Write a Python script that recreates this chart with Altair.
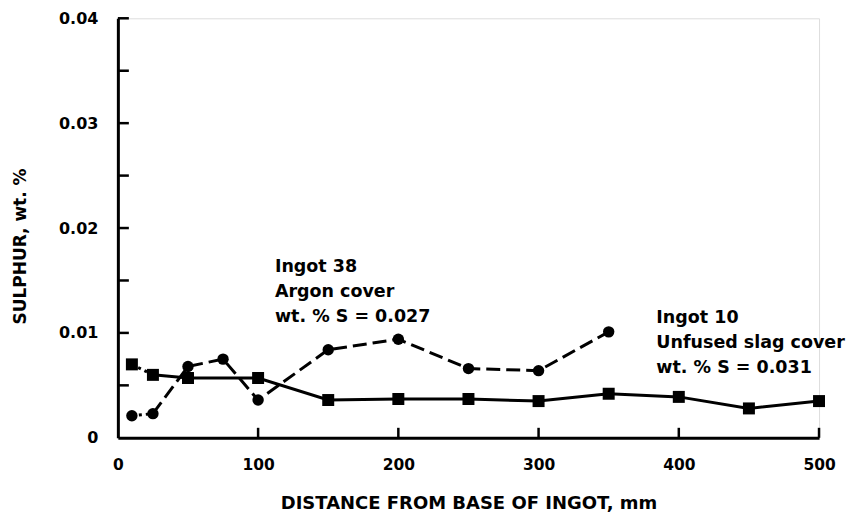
import altair as alt
import pandas as pd

# Ingot 38 (argon cover) - circles, dashed line
dist_38 = [10, 25, 50, 75, 100, 150, 200, 250, 300, 350]
sulphur_38 = [0.0021, 0.0023, 0.0068, 0.0075, 0.0036, 0.0084, 0.0094, 0.0066, 0.0064, 0.0101]

# Ingot 10 (unfused slag cover) - squares, solid line
dist_10 = [10, 25, 50, 100, 150, 200, 250, 300, 350, 400, 450, 500]
sulphur_10 = [0.0070, 0.0060, 0.0057, 0.0057, 0.0036, 0.0037, 0.0037, 0.0035, 0.0042, 0.0039, 0.0028, 0.0035]

x_label_values = [0, 100, 200, 300, 400, 500]
y_label_values = [0, 0.01, 0.02, 0.03, 0.04]
x_tick_values = [100, 200, 300, 400, 500]
y_tick_values = [0.005, 0.01, 0.015, 0.02, 0.025, 0.03, 0.035, 0.04]

ann_text = ["Ingot 38\nArgon cover\nwt. % S = 0.027",
            "Ingot 10\nUnfused slag cover\nwt. % S = 0.031"]
ann_x = [112, 384]
ann_y = [0.0158, 0.01095]

FONT = "DejaVu Sans"

df38 = pd.DataFrame({"dist": dist_38, "S": sulphur_38})
df10 = pd.DataFrame({"dist": dist_10, "S": sulphur_10})
dfxt = pd.DataFrame({"dist": x_tick_values})
dfyt = pd.DataFrame({"S": y_tick_values})
dfann = pd.DataFrame({"dist": ann_x, "S": ann_y, "txt": ann_text})

x_scale = alt.Scale(domain=[0, 500], nice=False, zero=True)
y_scale = alt.Scale(domain=[0, 0.04], nice=False, zero=True)

x_axis = alt.Axis(
    title="DISTANCE FROM BASE OF INGOT, mm",
    values=x_label_values, ticks=False, tickSize=0, grid=False,
    domainColor="black", domainWidth=3,
    labelFont=FONT, labelFontSize=15.5, labelFontWeight="bold", labelColor="black",
    labelPadding=20, labelFlush=False,
    titleFont=FONT, titleFontSize=18, titleFontWeight="bold", titleColor="black",
    titleY=66, titleBaseline="middle",
)
y_axis = alt.Axis(
    title="SULPHUR, wt. %",
    values=y_label_values, ticks=False, tickSize=0, grid=False,
    domainColor="black", domainWidth=3,
    labelFont=FONT, labelFontSize=16, labelFontWeight="bold", labelColor="black",
    labelPadding=20, labelFlush=False,
    labelExpr="datum.value == 0 ? '0' : format(datum.value, '.2f')",
    titleFont=FONT, titleFontSize=17, titleFontWeight="bold", titleColor="black",
    titleX=-97, titleY=228, titleBaseline="middle", titleAngle=-90,
)

X = alt.X("dist:Q", scale=x_scale, axis=x_axis)
Y = alt.Y("S:Q", scale=y_scale, axis=y_axis)

# first segment of each series drawn dotted, as in the original
line10a = alt.Chart(df10.iloc[:2]).mark_line(color="black", strokeWidth=3, strokeDash=[3, 4]).encode(x=X, y=Y)
line10b = alt.Chart(df10.iloc[1:]).mark_line(color="black", strokeWidth=3).encode(x=X, y=Y)
pts10 = alt.Chart(df10).mark_point(shape="square", filled=True, color="black", size=144, opacity=1).encode(x=X, y=Y)

line38a = alt.Chart(df38.iloc[:2]).mark_line(color="black", strokeWidth=3, strokeDash=[3, 4]).encode(x=X, y=Y)
line38b = alt.Chart(df38.iloc[1:]).mark_line(color="black", strokeWidth=3, strokeDash=[14, 6]).encode(x=X, y=Y)
pts38 = alt.Chart(df38).mark_point(shape="circle", filled=True, color="black", size=130, opacity=1).encode(x=X, y=Y)

xticks = alt.Chart(dfxt).mark_rule(color="black", strokeWidth=2.5).encode(
    x=X, y=alt.value(420), y2=alt.value(410))
yticks = alt.Chart(dfyt).mark_rule(color="black", strokeWidth=2.5).encode(
    y=Y, x=alt.value(0), x2=alt.value(11))

ann = alt.Chart(dfann).mark_text(
    align="left", baseline="alphabetic", font=FONT, fontSize=17.5, fontWeight="bold",
    color="black", lineBreak="\n", lineHeight=25,
).encode(x=X, y=Y, text="txt:N")

chart = alt.layer(line38a, line38b, line10a, line10b, pts38, pts10, xticks, yticks, ann).properties(
    width=702, height=420,
    autosize=alt.AutoSizeParams(type="none"),
    padding={"left": 110, "top": 10, "right": 30, "bottom": 75},
).configure_view(stroke="white", strokeWidth=0).configure(background="white")

chart.save("out.html", embed_options={"renderer": "svg", "actions": False})
